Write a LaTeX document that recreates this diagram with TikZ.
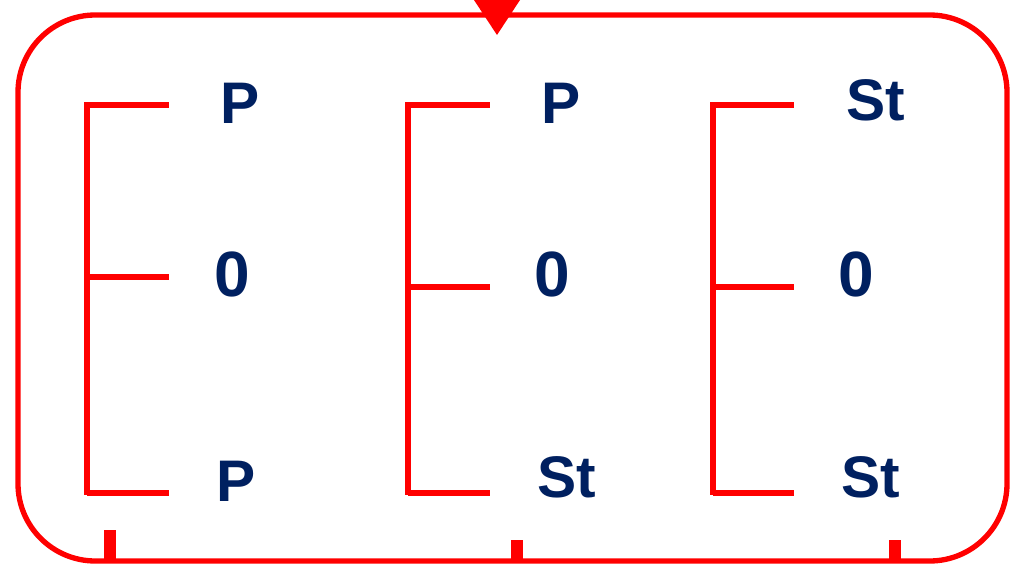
\documentclass[tikz,border=0pt]{standalone}
\usepackage{fontspec}
\setmainfont{Liberation Sans}
\usetikzlibrary{positioning,calc}
\definecolor{DeepNavy}{RGB}{0,32,96}
\definecolor{FrameRed}{RGB}{255,0,0}
\tikzset{
	frame/.style={draw=FrameRed,line width=4pt,rounded corners=58pt},
	brk/.style={draw=FrameRed,line width=4pt},
	tick/.style={draw=FrameRed,line width=8.5pt},
	lbl/.style={text=DeepNavy,font=\fontsize{44}{44}\selectfont\bfseries,inner sep=0pt,anchor=base},
	zero/.style={lbl,font=\fontsize{48}{48}\selectfont\bfseries},
}

\begin{document}
\begin{tikzpicture}[x=0.75pt,y=-0.75pt]
					\useasboundingbox (0,0) rectangle (1010,564);
					\fill[white] (0,0) rectangle (1010,564);
					\draw[frame] (18,15) rectangle (1007,561);
					\fill[FrameRed] (474,0) -- (520,0) -- (497,35) -- cycle;
					% labels
					\node[lbl] (p1t) at (240,123) {P};
					\node[zero] (p1m) at (232,296) {0};
					\node[lbl] (p1b) at (236,501) {P};
					\node[lbl] (p2t) at (561,123) {P};
					\node[zero] (p2m) at (552,296) {0};
					\node[lbl] (p2b) at (567,497) {St};
					\node[lbl] (p3t) at (876,120) {St};
					\node[zero] (p3m) at (856,296) {0};
					\node[lbl] (p3b) at (871,497) {St};
					% brackets
					\foreach \g/\x/\e/\m in {1/87/169/277,2/408/490/287,3/713/794/287}{
						\coordinate (s\g t) at (\x,102);
						\coordinate (s\g b) at (\x,495);
						\draw[brk] (s\g t) -- (s\g b);
						\draw[brk] (\x,105) -- (\e,105);
						\draw[brk] (\x,\m) -- (\e,\m);
						\draw[brk] (\x,493) -- (\e,493);
					}
					% ticks on the bottom edge
					\foreach \x/\y in {110/530,517/540,895/540}
					\draw[tick] (\x,\y) -- (\x,561);
				\end{tikzpicture}
\end{document}
